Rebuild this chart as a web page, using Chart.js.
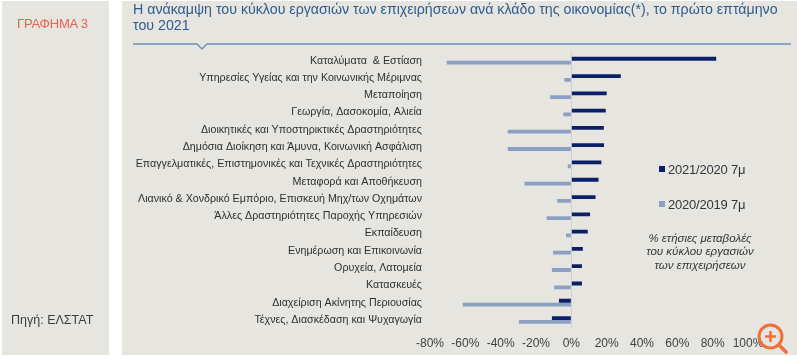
<!DOCTYPE html>
<html lang="el"><head><meta charset="utf-8">
<style>
html,body{margin:0;padding:0;background:#fff;width:797px;height:359px;overflow:hidden;font-family:"Liberation Sans",Arial,sans-serif}
.abs{position:absolute}
#wrap{position:absolute;left:0;top:0;width:797px;height:359px;filter:blur(.45px)}
#c{position:absolute;left:0;top:0}
.leg{font-size:13px;color:#33363b;letter-spacing:-.2px;white-space:nowrap}
.sw{position:absolute;width:6px;height:6px}
</style></head><body>
<div id="wrap">
<div class="abs" style="left:2px;top:1px;width:107px;height:354px;background:#e6e5e0"></div>
<div class="abs" style="left:122px;top:1px;width:675px;height:354px;background:#e6e5e0"></div>
<div class="abs" style="left:17px;top:16px;font-size:13px;color:#e8644f;letter-spacing:-.2px">ΓΡΑΦΗΜΑ 3</div>
<div class="abs" style="left:11px;top:313px;font-size:12.5px;color:#3c3f44">Πηγή: ΕΛΣΤΑΤ</div>
<div class="abs" style="left:133px;top:1px;width:660px;font-size:14.2px;line-height:16px;color:#2f5c8f">Η ανάκαμψη του κύκλου εργασιών των επιχειρήσεων ανά κλάδο της οικονομίας(*), το πρώτο επτάμηνο<br>του 2021</div>
<svg class="abs" style="left:0;top:0" width="797" height="359">
<polyline points="133,44 197,44 202,49 207,44 791,44" fill="none" stroke="#6f90b8" stroke-width="1.4"/>
</svg>
<canvas id="c" width="797" height="359"></canvas>
<div class="sw" style="left:659px;top:166px;background:#0a1f66"></div>
<div class="abs leg" style="left:668px;top:162px">2021/2020 7μ</div>
<div class="sw" style="left:659px;top:201px;background:#8ba0c2"></div>
<div class="abs leg" style="left:668px;top:197px">2020/2019 7μ</div>
<div class="abs" style="left:630px;top:232px;width:140px;text-align:center;font-size:11.5px;line-height:13.4px;font-style:italic;color:#33363b">% ετήσιες μεταβολές<br>του κύκλου εργασιών<br>των επιχειρήσεων</div>
<svg class="abs" style="left:0;top:0" width="797" height="359">
<circle cx="770.5" cy="336.5" r="11.5" fill="none" stroke="#f0703a" stroke-width="3"/>
<path d="M779 345 L786 352" stroke="#f0703a" stroke-width="3.6" stroke-linecap="round"/>
<path d="M770.5 331 V342 M765 336.5 H776" stroke="#f0703a" stroke-width="2.6"/>
</svg>
</div>
<script src="https://cdn.jsdelivr.net/npm/chart.js@4"></script>
<script>
const categories = [
"Καταλύματα  & Εστίαση",
"Υπηρεσίες Υγείας και την Κοινωνικής Μέριμνας",
"Μεταποίηση",
"Γεωργία, Δασοκομία, Αλιεία",
"Διοικητικές και Υποστηρικτικές Δραστηριότητες",
"Δημόσια Διοίκηση και Άμυνα, Κοινωνική Ασφάλιση",
"Επαγγελματικές, Επιστημονικές και Τεχνικές Δραστηριότητες",
"Μεταφορά και Αποθήκευση",
"Λιανικό & Χονδρικό Εμπόριο, Επισκευή Μηχ/των Οχημάτων",
"Άλλες Δραστηριότητες Παροχής Υπηρεσιών",
"Εκπαίδευση",
"Ενημέρωση και Επικοινωνία",
"Ορυχεία, Λατομεία",
"Κατασκευές",
"Διαχείριση Ακίνητης Περιουσίας",
"Τέχνες, Διασκέδαση και Ψυχαγωγία"];
const values2021 = [82,28,20,19.5,18.4,18.5,17,15.4,13.7,10.6,9.3,6.5,6,6,-7,-11];
const values2020 = [-70.5,-4,-12,-4.5,-36,-36,-2,-26.5,-8,-14,-3,-10.3,-11,-9.7,-61.5,-29.6];
new Chart(document.getElementById('c'),{
 type:'bar',
 data:{labels:categories,datasets:[
  {label:'2021/2020 7μ',data:values2021,backgroundColor:'#0a1f66'},
  {label:'2020/2019 7μ',data:values2020,backgroundColor:'#8ba0c2'}]},
 options:{
  indexAxis:'y',responsive:false,animation:false,
  categoryPercentage:.44,barPercentage:1,
  layout:{padding:{left:0,right:49,top:52,bottom:0}},
  plugins:{legend:{display:false},tooltip:{enabled:false}},
  scales:{
   x:{min:-80,max:100,position:'bottom',
      ticks:{stepSize:20,maxRotation:0,autoSkip:false,padding:8,color:'#3f4247',font:{family:'"Liberation Sans"',size:12},callback:v=>v+'%'},
      grid:{drawTicks:false,color:c=>c.tick&&c.tick.value===0?'#d0d0d0':'rgba(0,0,0,0)'},border:{display:false}},
   y:{afterFit:s=>{s.width=430},
      ticks:{autoSkip:false,padding:0,color:'#2e3034',font:{family:'"Liberation Sans"',size:10.7}},
      grid:{display:false},border:{display:false}}
  }
 }
});
</script>
</body></html>
